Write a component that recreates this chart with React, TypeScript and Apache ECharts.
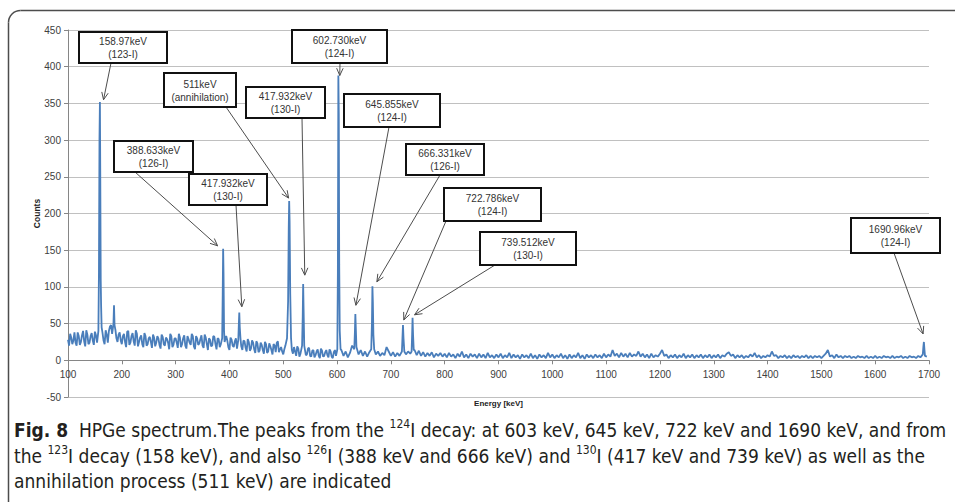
import React, { useEffect, useRef } from "react";
import * as echarts from "echarts";

// Background spectrum, sampled every BG_STEP_KEV keV starting at BG_START_KEV
const BG_START_KEV = 100;
const BG_STEP_KEV = 4;
const backgroundCounts = [
  // 100 - 196
  28, 36, 22, 38, 20, 33, 25, 40, 19, 35, 24, 37, 21, 34, 30, 45, 38, 22, 35, 40, 48, 50, 42, 25, 38,
  // 200 - 296
  22, 36, 18, 40, 24, 37, 20, 36, 25, 34, 18, 33, 22, 32, 17, 31, 24, 30, 16, 32, 20, 29, 15, 33, 21,
  // 300 - 396
  30, 17, 31, 22, 34, 16, 29, 21, 33, 15, 30, 23, 34, 17, 31, 14, 28, 20, 32, 15, 29, 22, 28, 20, 27,
  // 400 - 496
  14, 28, 18, 30, 20, 30, 14, 26, 12, 25, 16, 24, 10, 23, 13, 21, 9, 22, 12, 19, 8, 20, 24, 11, 18,
  // 500 - 596
  8, 20, 30, 40, 14, 18, 6, 16, 9, 20, 15, 8, 17, 5, 14, 7, 15, 3, 13, 6, 14, 4, 12, 3, 14,
  // 600 - 696
  6, 20, 14, 6, 12, 4, 10, 20, 25, 15, 8, 14, 6, 12, 5, 11, 20, 25, 8, 12, 6, 10, 7, 18, 12,
  // 700 - 796
  6, 11, 5, 10, 6, 14, 18, 8, 12, 9, 20, 14, 7, 13, 6, 11, 5, 10, 6, 11, 4, 9, 6, 10, 5,
  // 800 - 896
  9, 4, 10, 5, 8, 3, 9, 5, 12, 4, 8, 3, 9, 5, 8, 3, 9, 4, 8, 3, 10, 4, 7, 3, 8,
  // 900 - 996
  4, 9, 3, 7, 4, 10, 3, 8, 4, 7, 2, 8, 4, 7, 3, 9, 3, 7, 2, 8, 4, 7, 3, 10, 4,
  // 1000 - 1096
  8, 3, 7, 4, 9, 3, 7, 2, 8, 3, 7, 4, 10, 3, 7, 2, 8, 4, 7, 3, 8, 4, 7, 3, 9,
  // 1100 - 1196
  4, 8, 5, 14, 6, 9, 4, 10, 5, 9, 4, 10, 5, 8, 6, 12, 5, 9, 4, 8, 3, 9, 4, 7, 5,
  // 1200 - 1296
  9, 14, 6, 8, 3, 7, 4, 8, 3, 7, 4, 9, 3, 7, 4, 8, 3, 7, 4, 8, 3, 7, 4, 8, 3,
  // 1300 - 1396
  7, 4, 8, 3, 7, 5, 9, 11, 6, 8, 3, 7, 4, 7, 3, 6, 4, 8, 5, 10, 4, 7, 3, 6, 4,
  // 1400 - 1496
  7, 5, 12, 6, 7, 3, 6, 4, 7, 3, 6, 3, 7, 4, 6, 3, 6, 4, 7, 3, 6, 3, 6, 4, 6,
  // 1500 - 1596
  3, 6, 9, 14, 5, 7, 3, 8, 4, 6, 3, 6, 4, 6, 3, 5, 3, 6, 4, 5, 3, 6, 3, 5, 3,
  // 1600 - 1696
  6, 3, 5, 3, 6, 4, 5, 3, 6, 3, 5, 4, 6, 3, 5, 3, 6, 4, 5, 3, 6, 4, 8, 10, 5,
];

// Intermediate channels of the busy low-energy region (102, 106, ... 598 keV)
const MID_START_KEV = 102;
const midCounts = [
  // 102 - 198
  20, 31, 27, 24, 38, 21, 34, 26, 41, 22, 33, 27, 39, 24, 40, 30, 27, 41, 24, 46, 36, 44, 30, 35, 27,
  // 202 - 298
  33, 25, 39, 21, 33, 26, 41, 19, 31, 22, 37, 20, 30, 25, 35, 19, 33, 21, 35, 22, 31, 24, 36, 18, 30,
  // 302 - 398
  24, 36, 18, 30, 20, 33, 24, 36, 19, 33, 21, 29, 20, 35, 22, 30, 19, 33, 22, 30, 18, 27, 35, 33, 18,
  // 402 - 498
  31, 20, 26, 16, 33, 19, 27, 17, 29, 13, 27, 15, 26, 11, 24, 14, 25, 10, 23, 14, 22, 11, 26, 15, 12,
  // 502 - 598
  15, 28, 35, 20, 9, 12, 19, 5, 13, 12, 7, 16, 6, 13, 4, 12, 6, 16, 5, 11, 7, 15, 5, 11, 6,
];

// Photopeaks: channel energies (keV) and counts of each peak profile
const peakEnergies = [
  [156.5, 157.5, 158.5, 159.3, 160.0, 160.8, 161.5, 162.5],
  [184.5, 185.5, 186.5],
  [386.5, 387.5, 388.3, 389.0, 390.0, 391.0],
  [416.5, 417.5, 418.3, 419.2, 420.5],
  [507.0, 509.0, 510.2, 511.0, 511.8, 513.0, 514.5],
  [535.0, 536.2, 537.0, 537.8, 539.0],
  [600.5, 601.5, 602.4, 603.2, 604.0, 605.0, 606.5],
  [632.0, 633.2, 634.0, 634.8, 636.0],
  [663.5, 664.8, 665.7, 666.5, 667.5, 669.0],
  [720.5, 721.5, 722.5, 723.5, 725.0],
  [738.5, 739.5, 740.3, 741.2, 742.5],
  [1688.5, 1689.5, 1690.5, 1691.5, 1692.5],
];
const peakCounts = [
  [40, 120, 300, 352, 250, 110, 75, 45],
  [50, 75, 48],
  [30, 90, 152, 120, 40, 25],
  [28, 50, 65, 45, 30],
  [30, 80, 180, 217, 190, 90, 30],
  [20, 60, 104, 70, 20],
  [15, 120, 388, 336, 130, 40, 15],
  [15, 40, 63, 45, 18],
  [15, 50, 101, 80, 35, 15],
  [12, 30, 48, 30, 12],
  [12, 35, 58, 35, 14],
  [8, 18, 25, 15, 6],
];

// Peak annotations: label lines and the [energy, counts] point each arrow reaches
const annotationEnergyText = [
  "158.97keV", "511keV", "417.932keV", "388.633keV", "417.932keV", "602.730keV",
  "645.855keV", "666.331keV", "722.786keV", "739.512keV", "1690.96keV",
];
const annotationSourceText = [
  "(123-I)", "(annihilation)", "(130-I)", "(126-I)", "(130-I)", "(124-I)",
  "(124-I)", "(126-I)", "(124-I)", "(130-I)", "(124-I)",
];
const annotationTargets: [number, number][] = [
  [166, 355], [510, 221], [540, 116], [378, 156], [423, 73], [605, 388],
  [635, 75], [674, 107], [724, 55], [744, 62], [1689, 36],
];

const xTicks = { min: 100, max: 1700, step: 100 };
const yTicks = { min: -50, max: 450, step: 50 };

// Callout boxes on the page: [x, y, width, height] and the x where the arrow leaves the box
const boxLayout: [number, number, number, number][] = [
  [79, 32, 88, 31], [164, 73, 72, 34], [246, 87, 79, 31], [114, 141, 79, 31],
  [189, 174, 78, 31], [292, 30, 95, 33], [344, 94, 96, 33], [406, 144, 78, 31],
  [444, 188, 97, 33], [480, 232, 96, 33], [851, 218, 89, 35],
];
const arrowStartX = [111, 226, 302, 135, 236, 340, 389, 440, 446, 495, 894];

const GRID = { left: 68, right: 26, top: 30, bottom: 105 };
const CHART_H = 502;
const CHART_FONT = '"Liberation Sans", Arial, sans-serif';
const CAPTION_FONT = '"Liberation Sans Narrow", "DejaVu Sans Condensed", sans-serif';
const LINE_BLUE = "#4A7EBB";

function buildSpectrum(): [number, number][] {
  const pts: [number, number][] = [];
  const inPeak = (e: number) =>
    peakEnergies.some((pe) => e >= pe[0] - 1 && e <= pe[pe.length - 1] + 1);
  backgroundCounts.forEach((c, i) => {
    const e = BG_START_KEV + i * BG_STEP_KEV;
    if (!inPeak(e)) pts.push([e, c]);
  });
  midCounts.forEach((c, i) => {
    const e = MID_START_KEV + i * BG_STEP_KEV;
    if (!inPeak(e)) pts.push([e, c]);
  });
  peakEnergies.forEach((pe, k) =>
    pe.forEach((e, j) => pts.push([e, peakCounts[k][j]]))
  );
  pts.sort((a, b) => a[0] - b[0]);
  return pts;
}

function arrowGraphics(chart: echarts.ECharts) {
  const out: any[] = [];
  annotationTargets.forEach((t, i) => {
    const [bx, by, bw, bh] = boxLayout[i];
    const sx = arrowStartX[i];
    const sy = by + bh;
    const tip = chart.convertToPixel({ gridIndex: 0 }, t) as number[];
    const [tx, ty] = tip;
    const dx = tx - sx;
    const dy = ty - sy;
    const len = Math.sqrt(dx * dx + dy * dy) || 1;
    const ux = dx / len;
    const uy = dy / len;
    const head = 8;
    const ang = (24 * Math.PI) / 180;
    const rot = (a: number) => [
      ux * Math.cos(a) - uy * Math.sin(a),
      ux * Math.sin(a) + uy * Math.cos(a),
    ];
    const r1 = rot(ang);
    const r2 = rot(-ang);
    out.push({
      type: "line",
      silent: true,
      z: 10,
      shape: { x1: sx, y1: sy, x2: tx, y2: ty },
      style: { stroke: "#4d4d4d", lineWidth: 1 },
    });
    out.push({
      type: "polyline",
      silent: true,
      z: 10,
      shape: {
        points: [
          [tx - head * r1[0], ty - head * r1[1]],
          [tx, ty],
          [tx - head * r2[0], ty - head * r2[1]],
        ],
      },
      style: { stroke: "#4d4d4d", lineWidth: 1, fill: null },
    });
    out.push({
      type: "rect",
      silent: true,
      z: 11,
      shape: { x: bx, y: by, width: bw, height: bh },
      style: { fill: "#ffffff", stroke: "#111111", lineWidth: 2 },
    });
    out.push({
      type: "text",
      silent: true,
      z: 12,
      x: bx + bw / 2,
      y: by + bh / 2 + 0.5,
      style: {
        text: annotationEnergyText[i] + "\n" + annotationSourceText[i],
        align: "center",
        verticalAlign: "middle",
        fontSize: 10,
        lineHeight: 13,
        fontFamily: CHART_FONT,
        fill: "#333333",
      },
    });
  });
  return out;
}

const captionLines = [
  "{b|Fig. 8}{n|  HPGe spectrum.The peaks from the }{s|124}{n|I decay: at 603 keV, 645 keV, 722 keV and 1690 keV, and from}",
  "{n|the }{s|123}{n|I decay (158 keV), and also }{s|126}{n|I (388 keV and 666 keV) and }{s|130}{n|I (417 keV and 739 keV) as well as the}",
  "{n|annihilation process (511 keV) are indicated}",
];

function frameAndCaption() {
  const stroke = "#4d4d4d";
  const out: any[] = [
    {
      type: "polyline",
      silent: true,
      shape: { points: [[8.5, 502], [8.5, 22.5]] },
      style: { stroke, lineWidth: 1.5, fill: null },
    },
    {
      type: "arc",
      silent: true,
      shape: { cx: 20.5, cy: 22.5, r: 12, startAngle: Math.PI, endAngle: Math.PI * 1.5, clockwise: true },
      style: { stroke, lineWidth: 1.5, fill: null },
    },
    {
      type: "polyline",
      silent: true,
      shape: { points: [[20.5, 10.5], [955, 10.5]] },
      style: { stroke, lineWidth: 1.5, fill: null },
    },
  ];
  const lineY = [430, 456, 481];
  captionLines.forEach((txt, i) => {
    out.push({
      type: "text",
      silent: true,
      x: 14,
      y: lineY[i],
      style: {
        text: txt,
        verticalAlign: "middle",
        fill: "#231f20",
        rich: {
          b: { fontFamily: CAPTION_FONT, fontSize: 19, fontWeight: "bold", fill: "#231f20", lineHeight: 24 },
          n: { fontFamily: CAPTION_FONT, fontSize: 19, fill: "#231f20", lineHeight: 24 },
          s: { fontFamily: CAPTION_FONT, fontSize: 12, fill: "#231f20", lineHeight: 24, verticalAlign: "top" },
        },
      },
    });
  });
  return out;
}

export default function App() {
  const ref = useRef<HTMLDivElement>(null);

  useEffect(() => {
    if (!ref.current) return;
    const chart = echarts.init(ref.current, null, { renderer: "svg" });
    const axisGray = "#868686";
    // The energy axis crosses the count axis at zero counts
    const gridHeight = CHART_H - GRID.top - GRID.bottom;
    const zeroOffset = -gridHeight * (0 - yTicks.min) / (yTicks.max - yTicks.min);
    chart.setOption({
      animation: false,
      backgroundColor: "#ffffff",
      grid: GRID,
      xAxis: {
        type: "value",
        min: xTicks.min,
        max: xTicks.max,
        interval: xTicks.step,
        offset: zeroOffset,
        name: "Energy [keV]",
        nameLocation: "middle",
        nameGap: 39,
        nameMoveOverlap: false,
        nameTextStyle: { fontFamily: CHART_FONT, fontSize: 8, fontWeight: "bold", color: "#222" },
        axisLine: { onZero: false, lineStyle: { color: axisGray, width: 1 } },
        axisTick: { show: true, length: 4, lineStyle: { color: axisGray } },
        axisLabel: {
          margin: 9,
          fontFamily: CHART_FONT,
          fontSize: 10,
          color: "#404040",
          formatter: (v: number) => String(v),
        },
        splitLine: { show: false },
      },
      yAxis: {
        type: "value",
        min: yTicks.min,
        max: yTicks.max,
        interval: yTicks.step,
        name: "Counts",
        nameLocation: "middle",
        nameGap: 27,
        nameMoveOverlap: false,
        nameRotate: 90,
        nameTextStyle: { fontFamily: CHART_FONT, fontSize: 8.5, fontWeight: "bold", color: "#222" },
        axisLine: { show: true, lineStyle: { color: axisGray, width: 1 } },
        axisTick: { show: true, length: 4, lineStyle: { color: axisGray } },
        axisLabel: { margin: 7, fontFamily: CHART_FONT, fontSize: 10, color: "#404040" },
        splitLine: { show: true, lineStyle: { color: "#c0c0c0", width: 1.2 } },
      },
      series: [
        {
          type: "line",
          data: buildSpectrum(),
          showSymbol: false,
          symbol: "none",
          lineStyle: { color: LINE_BLUE, width: 1.8 },
          z: 3,
        },
      ],
      graphic: frameAndCaption(),
    });
    chart.setOption({ graphic: [...frameAndCaption(), ...arrowGraphics(chart)] });
    return () => chart.dispose();
  }, []);

  return (
    <div
      ref={ref}
      style={{ position: "fixed", left: 0, top: 0, width: 955, height: 502 }}
    />
  );
}
